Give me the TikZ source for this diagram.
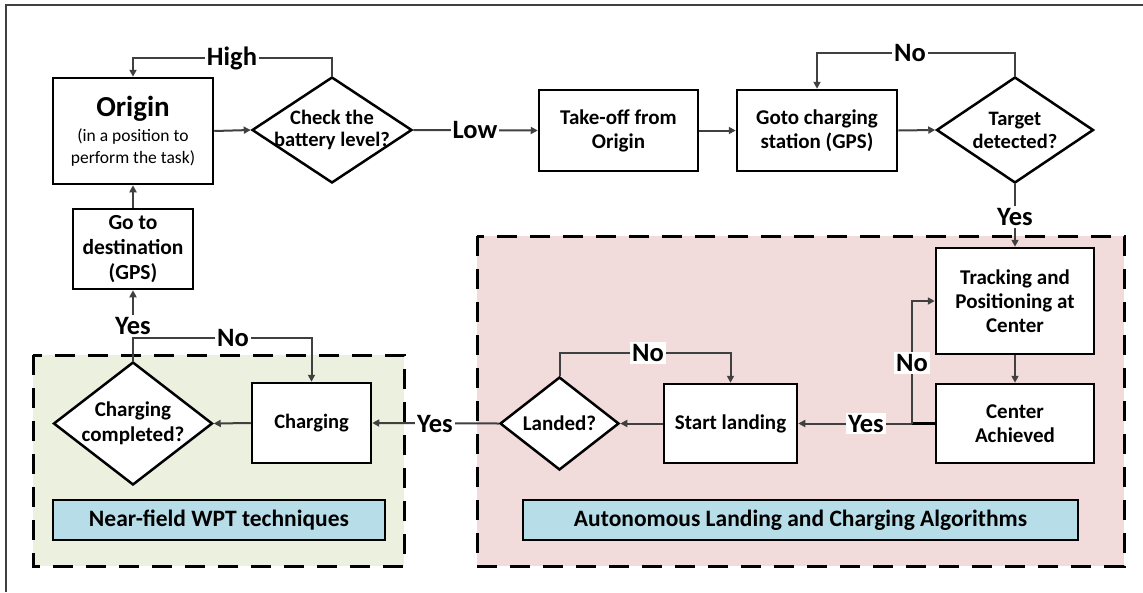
\documentclass[tikz,border=0pt]{standalone}
\usepackage{fontspec}
\setmainfont{Carlito}
\usetikzlibrary{shapes.geometric,arrows.meta,backgrounds}
\definecolor{pinkbg}{HTML}{F2DCDB}
\definecolor{greenbg}{HTML}{EBF1DE}
\definecolor{bluelbl}{HTML}{B7DEE8}
\definecolor{conn}{HTML}{404040}
\tikzset{
 box/.style={draw=black, line width=2.5pt, fill=white, rectangle, inner sep=0pt, align=center, font=\bfseries\fontsize{21}{24}\selectfont},
 dia/.style={draw=black, line width=2.5pt, fill=white, diamond, inner sep=0pt},
 dtext/.style={align=center, inner sep=0pt, font=\bfseries\fontsize{21}{23}\selectfont},
 arr/.style={draw=conn, line width=2pt, -{Triangle[length=7pt,width=7pt]}},
 ln/.style={draw=conn, line width=2pt},
 lbl/.style={fill=white, inner sep=2pt, font=\bfseries\fontsize{26.5}{28}\selectfont},
 region/.style={draw=black, line width=3pt, dash pattern=on 20pt off 13pt},
 tagbox/.style={draw=black, line width=2.5pt, fill=bluelbl, inner sep=0pt, font=\bfseries\fontsize{23.5}{26}\selectfont},
}
\begin{document}
\begin{tikzpicture}[x=1pt,y=-1pt]
\useasboundingbox (0,0) rectangle (1143,592);
% frame
\draw[conn, line width=1.5pt] (6,592) -- (6,5) -- (1143,5);
% regions
\fill[greenbg] (33,355) rectangle (404,566);
\draw[region] (33,355) rectangle (404,566);
\fill[pinkbg] (477,236) rectangle (1124,566);
\draw[region] (477,236) rectangle (1124,566);
% tag boxes
\node[tagbox, minimum width=332pt, minimum height=40pt] (nf) at (219,520) {Near-field WPT techniques};
\node[tagbox, minimum width=555pt, minimum height=40pt] (alg) at (800.5,520) {Autonomous Landing and Charging Algorithms};
% nodes
\node[box, minimum width=160pt, minimum height=106pt, font=\bfseries\fontsize{17.5}{22}\selectfont] (orig) at (133,131)
 {{\fontsize{29}{30}\selectfont Origin}\\[3pt]\mdseries (in a position to\\\mdseries perform the task)};
\node[dia, minimum width=160pt, minimum height=106pt,
 label={[dtext, font=\bfseries\fontsize{20.5}{22}\selectfont]center:{Check the\\battery level?}}] (chk) at (332,130) {};
\node[box, minimum width=159pt, minimum height=81pt] (take) at (618.5,130.5) {Take-off from\\Origin};
\node[box, minimum width=160pt, minimum height=81pt] (gocs) at (817,130.5) {Goto charging\\station (GPS)};
\node[dia, minimum width=157pt, minimum height=106pt,
 label={[dtext, font=\bfseries\fontsize{20.5}{23}\selectfont]center:{Target\\detected?}}] (tgt) at (1015,130) {};
\node[box, minimum width=158pt, minimum height=106pt] (track) at (1015,301) {Tracking and\\Positioning at\\Center};
\node[box, minimum width=158pt, minimum height=79pt] (cach) at (1015,423.5) {Center\\Achieved};
\node[box, minimum width=133pt, minimum height=79pt] (sland) at (730.5,423.5) {Start landing};
\node[dia, minimum width=119pt, minimum height=93pt,
 label={[dtext]center:{Landed?}}] (landed) at (559.5,423.5) {};
\node[box, minimum width=119pt, minimum height=80pt, font=\bfseries\fontsize{20.5}{24}\selectfont] (chg) at (311.5,423) {Charging};
\node[dia, minimum width=159pt, minimum height=123pt,
 label={[dtext, font=\bfseries\fontsize{21}{25}\selectfont]center:{Charging\\completed?}}] (ccomp) at (133,423.5) {};
\node[box, minimum width=120pt, minimum height=80pt, font=\bfseries\fontsize{21.5}{25}\selectfont] (gdest) at (133,249) {Go to\\destination\\(GPS)};
% helper coordinates
\coordinate (hi) at (332,58);
\coordinate (tno) at (1015,53);
\coordinate (jct) at (912,423.5);
\coordinate (lno) at (559.5,353);
\coordinate (jg) at (133,338);
% connectors
\draw[arr] (orig.east) -- (chk.west);
\draw[arr] (chk.north) -- (hi) -| (orig.north);
\draw[arr] (chk.east) -- (take.west);
\draw[arr] (take.east) -- (gocs.west);
\draw[arr] (gocs.east) -- (tgt.west);
\draw[arr] (tgt.north) -- (tno) -| (gocs.north);
\draw[arr] (tgt.south) -- (track.north);
\draw[arr] (track.south) -- (cach.north);
\draw[draw=black, line width=2.5pt] (cach.west) -- (jct);
\draw[arr] (jct) -- (sland.east);
\draw[arr] (jct) |- (track.west);
\draw[arr] (sland.west) -- (landed.east);
\draw[arr] (landed.north) -- (lno) -| (sland.north);
\draw[arr] (landed.west) -- (chg.east);
\draw[arr] (chg.west) -- (ccomp.east);
\draw[ln] (ccomp.north) -- (jg);
\draw[arr] (jg) -- (gdest.south);
\draw[arr] (jg) -| (chg.north);
\draw[arr] (gdest.north) -- (orig.south);
% labels
\node[lbl] (lhigh) at (232,58) {High};
\node[lbl] (llow) at (475,130) {Low};
\node[lbl] (ltno) at (910,53) {No};
\node[lbl] (ltyes) at (1015,217) {Yes};
\node[lbl] (lcno) at (912,363) {No};
\node[lbl] (lcyes) at (866,423.5) {Yes};
\node[lbl] (llno) at (648,353) {No};
\node[lbl] (llyes) at (435,423.5) {Yes};
\node[lbl] (lgyes) at (133,326) {Yes};
\node[lbl] (lgno) at (233,338) {No};
\end{tikzpicture}
\end{document}
